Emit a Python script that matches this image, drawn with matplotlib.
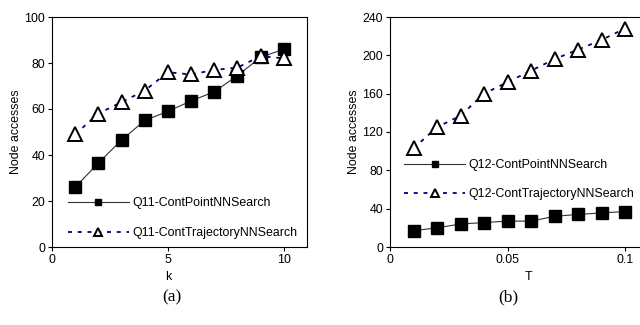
import matplotlib
matplotlib.use("Agg")
import matplotlib.pyplot as plt

plt.rcParams['font.family'] = ['Liberation Sans', 'DejaVu Sans']

k_vals = [1, 2, 3, 4, 5, 6, 7, 8, 9, 10]
q11_point = [26, 36.5, 46.5, 55, 59, 63.5, 67.5, 74.5, 82.5, 86]
q11_traj = [49, 58, 63, 68, 76, 75, 77, 78, 83, 82]

t_vals = [0.01, 0.02, 0.03, 0.04, 0.05, 0.06, 0.07, 0.08, 0.09, 0.1]
q12_point = [17, 20, 24, 25.5, 27, 27, 32, 34, 35.5, 37]
q12_traj = [103, 125, 137, 160, 172, 184, 196, 206, 216, 228]

W, H = 640, 325
fig = plt.figure(figsize=(W / 100, H / 100), dpi=100)

def px_axes(x0, x1, ytop, ybot):
    return fig.add_axes([x0 / W, 1 - ybot / H, (x1 - x0) / W, (ybot - ytop) / H])

fs = 8.9

def style(ax):
    for s in ax.spines.values():
        s.set_linewidth(0.8)
        s.set_color('black')
    ax.tick_params(direction='out', length=3, width=0.8, labelsize=fs, pad=2)

def plot_series(ax, x, yp, yt, lp, lt):
    ax.plot(x, yp, color='#333333', lw=0.8, marker='s', ms=9,
            mfc='black', mec='black', label=lp, zorder=3)
    ax.plot(x, yt, color='#000080', lw=1.3, ls=(0, (2.2, 3.2)), marker='^', ms=10,
            mfc='white', mec='black', mew=1.4, label=lt, zorder=4)

leg_kw = dict(loc='upper left', frameon=False, fontsize=fs, handlelength=4.9,
              handletextpad=0.3, markerscale=0.55, borderaxespad=0, borderpad=0)

# (a)
ax1 = px_axes(52, 307, 17, 247)
plot_series(ax1, k_vals, q11_point, q11_traj, 'Q11-ContPointNNSearch', 'Q11-ContTrajectoryNNSearch')
ax1.set_xlim(0, 11)
ax1.set_ylim(0, 100)
ax1.set_xticks([0, 5, 10])
ax1.set_yticks([0, 20, 40, 60, 80, 100])
style(ax1)
ax1.set_ylabel('Node accesses', fontsize=fs, labelpad=1.5)
ax1.text(5, -0.105, 'k', transform=ax1.get_xaxis_transform(), ha='center', va='top', fontsize=fs)
ax1.legend(bbox_to_anchor=(0.063, 0.217), labelspacing=1.45, **leg_kw)

# (b)
ax2 = px_axes(390, 648.5, 17, 247)
plot_series(ax2, t_vals, q12_point, q12_traj, 'Q12-ContPointNNSearch', 'Q12-ContTrajectoryNNSearch')
ax2.set_xlim(0, 0.11)
ax2.set_ylim(0, 240)
ax2.set_xticks([0, 0.05, 0.1])
ax2.set_xticklabels(['0', '0.05', '0.1'])
ax2.set_yticks([0, 40, 80, 120, 160, 200, 240])
style(ax2)
ax2.set_ylabel('Node accesses', fontsize=fs, labelpad=1.5)
ax2.text(0.059, -0.105, 'T', transform=ax2.get_xaxis_transform(), ha='center', va='top', fontsize=fs)
ax2.legend(bbox_to_anchor=(0.055, 0.383), labelspacing=1.38, **leg_kw)

fig.text(172 / W, 1 - 297 / H, '(a)', fontsize=12.5, family=['Liberation Serif', 'DejaVu Serif'],
         ha='center', va='center')
fig.text(508 / W, 1 - 297 / H, '(b)', fontsize=12.5, family=['Liberation Serif', 'DejaVu Serif'],
         ha='center', va='center')

fig.savefig('out.png', dpi=100)
